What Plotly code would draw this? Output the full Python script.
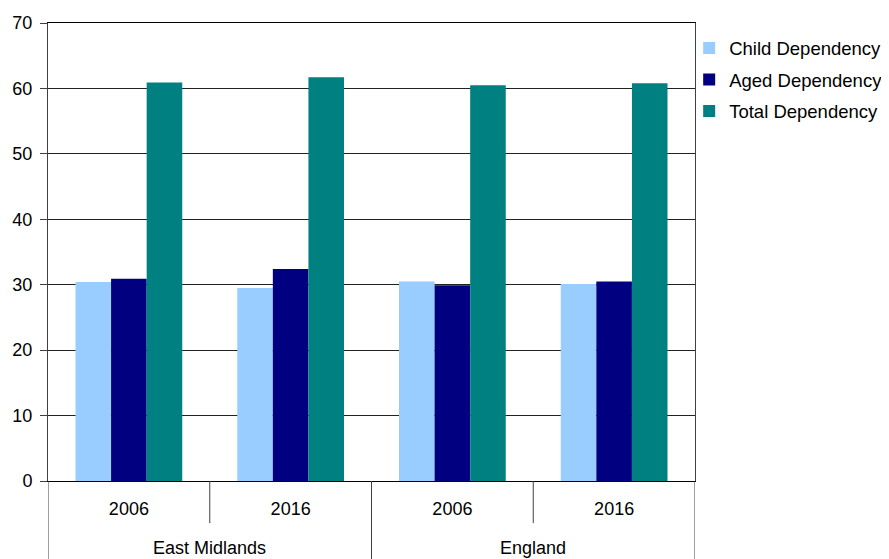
import plotly.graph_objects as go

regions = ["East Midlands", "England"]
years = ["2006", "2016", "2006", "2016"]
child = [30.4, 29.5, 30.5, 30.1]
aged = [30.9, 32.4, 29.9, 30.5]
total = [60.9, 61.7, 60.5, 60.8]

pos = list(range(len(years)))

fig = go.Figure()
fig.add_bar(name="Child Dependency", x=pos, y=child, marker_color="#99CCFF",
            marker_line_width=0, legendgroup="a")
fig.add_bar(name="Aged Dependency", x=pos, y=aged, marker_color="#000080",
            marker_line_width=0, legendgroup="b")
fig.add_bar(name="Total Dependency", x=pos, y=total, marker_color="#008080",
            marker_line_width=0, legendgroup="c")

# category axis: dividers between years and between regions
line = dict(color="#404040", width=1)
for i in range(len(years) + 1):
    xv = i - 0.5
    full = (i % 2 == 0)
    fig.add_shape(type="line", xref="x", yref="paper", x0=xv, x1=xv,
                  y0=0, y1=-0.18 if full else -0.092, line=line)
for k, r in enumerate(regions):
    fig.add_annotation(text=r, xref="x", yref="paper", x=2 * k + 0.5, y=-0.146,
                       showarrow=False, yanchor="middle", font=dict(size=18))

# page body adds an 8px offset, so the figure is 881x551
fig.update_layout(
    width=881, height=551,
    margin=dict(l=40, r=194, t=15, b=78, autoexpand=False),
    paper_bgcolor="white", plot_bgcolor="white",
    font=dict(family="Liberation Sans, Arial", size=18, color="black"),
    barmode="group", bargap=0.34, bargroupgap=0,
    showlegend=True,
    legend=dict(x=0.991, y=0.986, xanchor="left", yanchor="top",
                bgcolor="rgba(0,0,0,0)",
                font=dict(size=18.5), itemwidth=30, tracegroupgap=4.5),
)
fig.update_yaxes(range=[0, 70], dtick=10, showgrid=True, gridcolor="#222222", gridwidth=1,
                 showline=True, linecolor="#404040", mirror=True, ticks="outside",
                 ticklen=7, tickcolor="#404040", zeroline=False, automargin=False,
                 ticklabelstandoff=4)
fig.update_xaxes(range=[-0.5, 3.5], tickvals=pos, ticktext=years, ticks="",
                 showline=True, linecolor="#000000", mirror=True, showgrid=False,
                 zeroline=False, automargin=False, ticklabelstandoff=11)
fig.write_html("out.html")
